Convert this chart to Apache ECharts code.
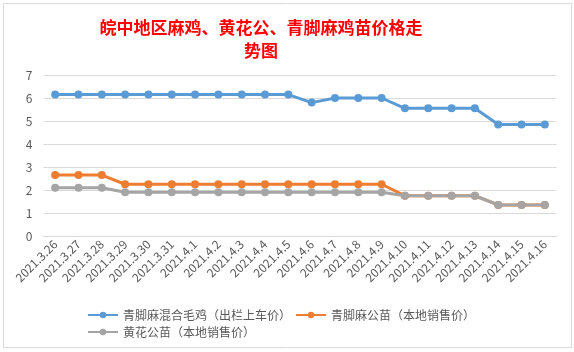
<!DOCTYPE html>
<html>
<head>
<meta charset="utf-8">
<script src="https://cdn.jsdelivr.net/npm/echarts@6/dist/echarts.min.js"></script>
<style>
  html,body{margin:0;padding:0;background:#fff;}
  #chart{width:574px;height:352px;}
</style>
</head>
<body>
<div id="chart"></div>
<script>
const categories=['2021.3.26','2021.3.27','2021.3.28','2021.3.29','2021.3.30','2021.3.31','2021.4.1','2021.4.2','2021.4.3','2021.4.4','2021.4.5','2021.4.6','2021.4.7','2021.4.8','2021.4.9','2021.4.10','2021.4.11','2021.4.12','2021.4.13','2021.4.14','2021.4.15','2021.4.16'];
const maJi=[6.15,6.15,6.15,6.15,6.15,6.15,6.15,6.15,6.15,6.15,6.15,5.8,6,6,6,5.55,5.55,5.55,5.55,4.85,4.85,4.85];
const qingJiaoGong=[2.65,2.65,2.65,2.25,2.25,2.25,2.25,2.25,2.25,2.25,2.25,2.25,2.25,2.25,2.25,1.75,1.75,1.75,1.75,1.35,1.35,1.35];
const huangHuaGong=[2.1,2.1,2.1,1.9,1.9,1.9,1.9,1.9,1.9,1.9,1.9,1.9,1.9,1.9,1.9,1.75,1.75,1.75,1.75,1.35,1.35,1.35];
const names=['青脚麻混合毛鸡（出栏上车价）','青脚麻公苗（本地销售价）','黄花公苗（本地销售价）'];

const chart=echarts.init(document.getElementById('chart'));
const font='"Noto Sans CJK SC", sans-serif';

function line(name,data,color){
  return {
    name:name,
    type:'line',
    data:data,
    symbol:'circle',
    symbolSize:8,
    itemStyle:{color:color},
    lineStyle:{color:color,width:3},
    animation:false
  };
}

const legendText={color:'#595959',fontSize:12,fontFamily:font};

chart.setOption({
  backgroundColor:'#fff',
  textStyle:{fontFamily:font},
  title:{
    text:'皖中地区麻鸡、黄花公、青脚麻鸡苗价格走\n势图',
    left:256,
    textAlign:'center',
    top:11,
    textStyle:{color:'#ff0000',fontSize:17,fontWeight:'bold',fontFamily:font,lineHeight:23,align:'center'}
  },
  graphic:[{
    type:'rect',
    shape:{x:3.5,y:3.5,width:568,height:344},
    style:{fill:null,stroke:'#d9d9d9',lineWidth:1},
    silent:true
  }],
  legend:[{
    data:[names[0],names[1]],
    left:82,top:304,
    itemWidth:30,itemHeight:8,itemGap:4,
    textStyle:legendText
  },{
    data:[names[2]],
    left:82,top:321,
    itemWidth:30,itemHeight:8,
    textStyle:legendText
  }],
  grid:{left:43.5,right:17.5,top:75,bottom:116,containLabel:false},
  xAxis:{
    type:'category',
    data:categories,
    boundaryGap:true,
    axisLine:{show:true,lineStyle:{color:'#d9d9d9',width:1}},
    axisTick:{show:false},
    axisLabel:{interval:0,rotate:45,color:'#595959',fontSize:12,margin:6,fontFamily:font}
  },
  yAxis:{
    type:'value',
    min:0,max:7,interval:1,
    axisLine:{show:false},
    axisTick:{show:false},
    axisLabel:{color:'#595959',fontSize:12,margin:11,fontFamily:font},
    splitLine:{lineStyle:{color:'#d9d9d9',width:1}}
  },
  series:[
    line(names[0],maJi,'#5b9bd5'),
    line(names[1],qingJiaoGong,'#ed7d31'),
    line(names[2],huangHuaGong,'#a5a5a5')
  ]
});
</script>
</body>
</html>
